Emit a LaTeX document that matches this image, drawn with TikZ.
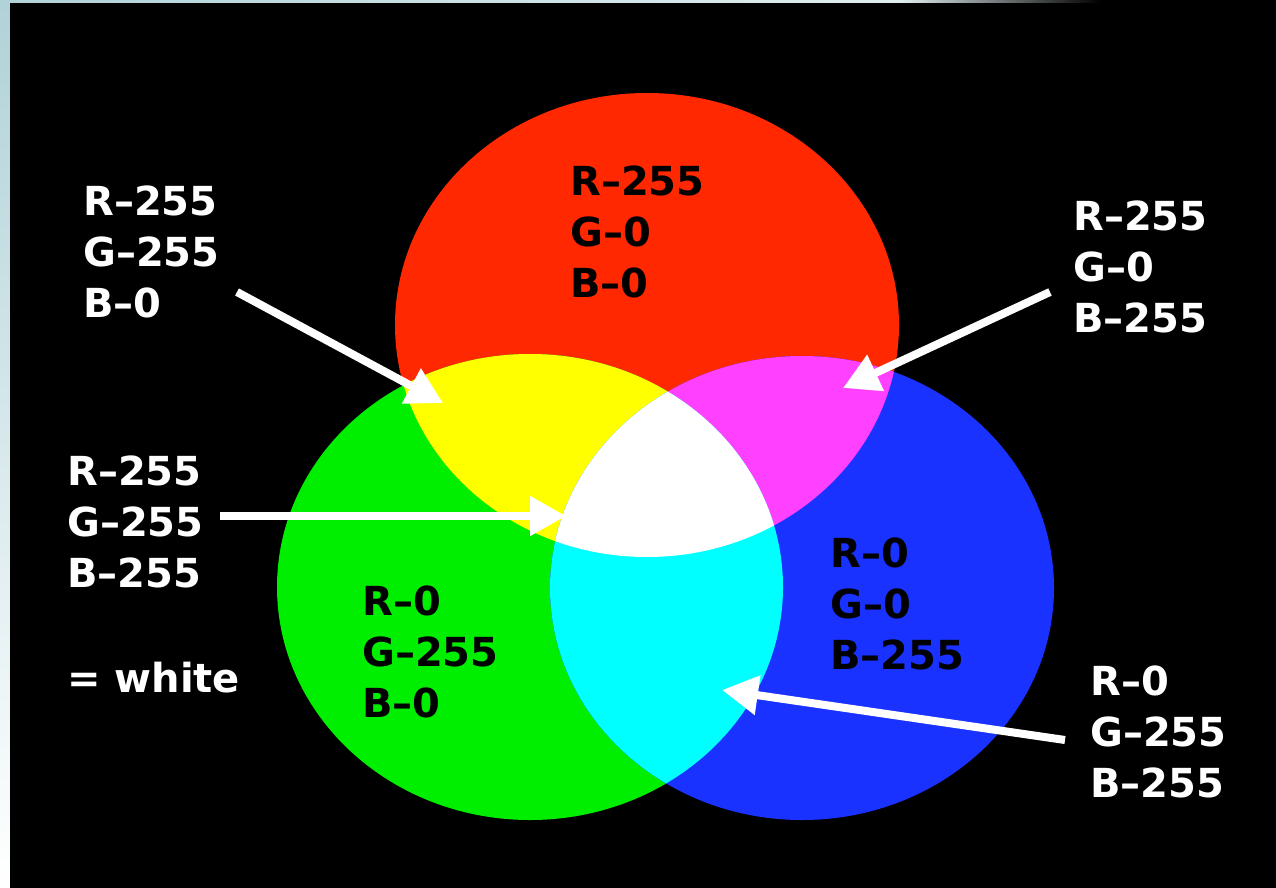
\documentclass[tikz,border=0pt]{standalone}
\usepackage{fontspec}
\setmainfont{DejaVu Sans}
\usetikzlibrary{arrows.meta}
\definecolor{cred}{RGB}{255,40,0}
\definecolor{cgreen}{RGB}{0,238,0}
\definecolor{cblue}{RGB}{25,50,255}
\definecolor{cyellow}{RGB}{255,255,0}
\definecolor{cmagenta}{RGB}{255,64,255}
\definecolor{ccyan}{RGB}{0,255,255}
\definecolor{stripc}{RGB}{176,210,216}
\definecolor{stripe}{RGB}{225,238,240}
\newcommand{\lines}[1]{\begin{tabular}[t]{@{}l@{}}#1\end{tabular}}
\newcommand{\redE}{(647,325) ellipse [x radius=252, y radius=232]}
\newcommand{\greenE}{(530,587) ellipse [x radius=253, y radius=233]}
\newcommand{\blueE}{(802,588) ellipse [x radius=252, y radius=232]}
\begin{document}
\begin{tikzpicture}[x=1pt,y=-1pt,
  lbl/.style={anchor=base west, inner sep=0pt, font=\bfseries\fontsize{40}{51}\selectfont},
  wl/.style={lbl, text=white},
  bl/.style={lbl, text=black},
  arr/.style={white, line width=8pt, -{Triangle[length=36pt,width=38pt]}}]
\useasboundingbox (0,0) rectangle (1276,888);
% frame
\fill[black] (0,0) rectangle (1276,888);
\shade[top color=stripc, bottom color=white] (0,0) rectangle (10,888);
\shade[left color=stripc, right color=stripe] (0,0) rectangle (900,3);
\shade[left color=stripe, right color=black] (900,0) rectangle (1100,3);
\fill[black] (10,3) rectangle (1276,888);
% circles
\fill[cred] \redE;
\fill[cgreen] \greenE;
\fill[cblue] \blueE;
\begin{scope}\clip \redE; \fill[cyellow] \greenE; \end{scope}
\begin{scope}\clip \redE; \fill[cmagenta] \blueE; \end{scope}
\begin{scope}\clip \greenE; \fill[ccyan] \blueE; \end{scope}
\begin{scope}\clip \redE; \clip \greenE; \fill[white] \blueE; \end{scope}
% labels
\node[wl] (lY) at (83,215) {\lines{R\textendash255\\G\textendash255\\B\textendash0}};
\node[bl] (lR) at (570,195) {\lines{R\textendash255\\G\textendash0\\B\textendash0}};
\node[wl] (lM) at (1073,230) {\lines{R\textendash255\\G\textendash0\\B\textendash255}};
\node[wl] (lW) at (67,485) {\lines{R\textendash255\\G\textendash255\\B\textendash255}};
\node[wl] (weq) at (67,692) {= white};
\node[bl] (lG) at (362,615) {\lines{R\textendash0\\G\textendash255\\B\textendash0}};
\node[bl] (lB) at (830,567) {\lines{R\textendash0\\G\textendash0\\B\textendash255}};
\node[wl] (lC) at (1090,695) {\lines{R\textendash0\\G\textendash255\\B\textendash255}};
% arrows
\coordinate (aY) at (237,292); \coordinate (tY) at (443,403);
\coordinate (aM) at (1050,292); \coordinate (tM) at (843,388);
\coordinate (aW) at (220,516); \coordinate (tW) at (566,516);
\coordinate (aC) at (1065,740); \coordinate (tC) at (722,690);
\draw[arr] (aY) -- (tY);
\draw[arr] (aM) -- (tM);
\draw[arr] (aW) -- (tW);
\draw[arr] (aC) -- (tC);
\end{tikzpicture}
\end{document}
